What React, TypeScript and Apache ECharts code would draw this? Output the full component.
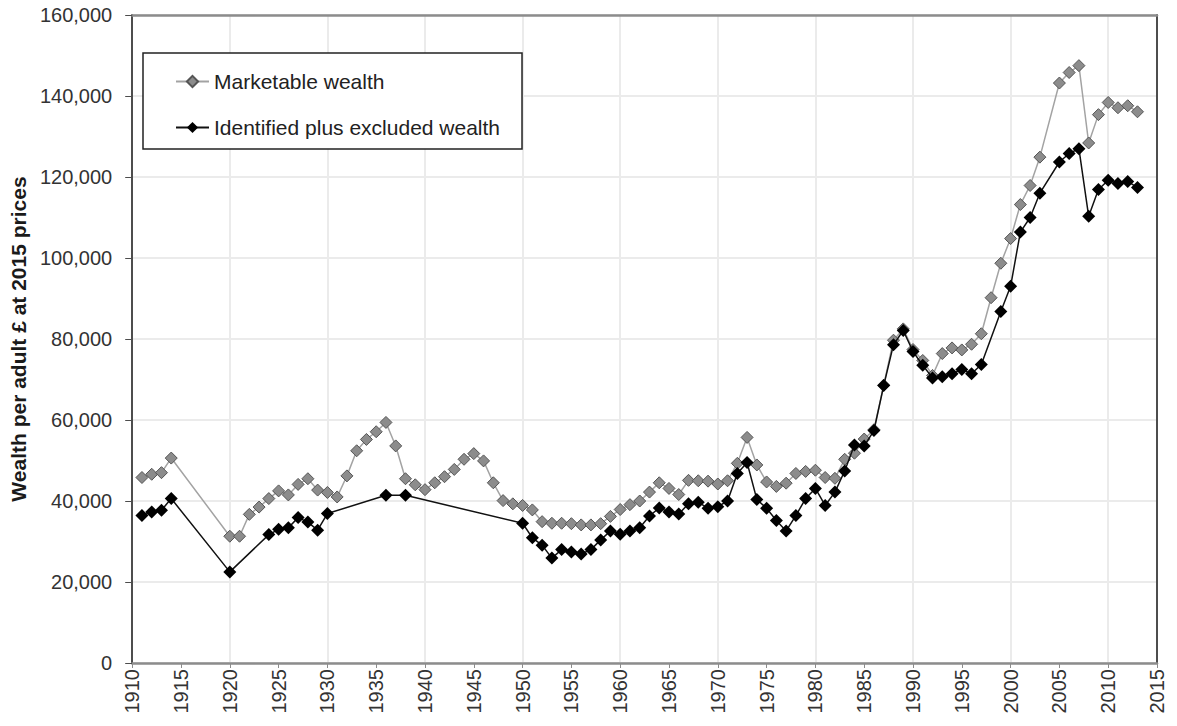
import React, { useEffect, useRef } from "react";
import * as echarts from "echarts";

// Marketable wealth (grey diamonds)
const marketableYears = [
  1911, 1912, 1913, 1914, 1920, 1921, 1922, 1923, 1924, 1925, 1926, 1927, 1928, 1929, 1930,
  1931, 1932, 1933, 1934, 1935, 1936, 1937, 1938, 1939, 1940, 1941, 1942, 1943, 1944, 1945,
  1946, 1947, 1948, 1949, 1950, 1951, 1952, 1953, 1954, 1955, 1956, 1957, 1958, 1959, 1960,
  1961, 1962, 1963, 1964, 1965, 1966, 1967, 1968, 1969, 1970, 1971, 1972, 1973, 1974, 1975,
  1976, 1977, 1978, 1979, 1980, 1981, 1982, 1983, 1984, 1985, 1986, 1987, 1988, 1989, 1990,
  1991, 1992, 1993, 1994, 1995, 1996, 1997, 1998, 1999, 2000, 2001, 2002, 2003, 2005, 2006,
  2007, 2008, 2009, 2010, 2011, 2012, 2013,
];
const marketableValues = [
  45800, 46600, 47000, 50600, 31300, 31300, 36700, 38500, 40600, 42500, 41500, 44100, 45500, 42700, 42100,
  41000, 46200, 52400, 55200, 57100, 59400, 53600, 45500, 44000, 42800, 44500, 46000, 47800, 50300, 51700,
  49900, 44500, 40100, 39300, 38900, 37800, 34900, 34500, 34500, 34400, 34100, 34100, 34400, 36200, 37900,
  39100, 40000, 42200, 44500, 43100, 41600, 45100, 45000, 44900, 44200, 45000, 49300, 55700, 48900, 44700,
  43600, 44400, 46800, 47300, 47600, 45800, 45600, 50300, 51800, 55300, 57600, 68600, 79700, 82500, 77400,
  74700, 71000, 76400, 77800, 77300, 78700, 81300, 90200, 98700, 104800, 113200, 117900, 124900, 143200, 145800,
  147500, 128400, 135400, 138400, 137100, 137600, 136100,
];

// Identified plus excluded wealth (black diamonds)
const identifiedYears = [
  1911, 1912, 1913, 1914, 1920, 1924, 1925, 1926, 1927, 1928, 1929, 1930, 1936, 1938,
  1950, 1951, 1952, 1953, 1954, 1955, 1956, 1957, 1958, 1959, 1960, 1961, 1962, 1963, 1964,
  1965, 1966, 1967, 1968, 1969, 1970, 1971, 1972, 1973, 1974, 1975, 1976, 1977, 1978, 1979,
  1980, 1981, 1982, 1983, 1984, 1985, 1986, 1987, 1988, 1989, 1990, 1991, 1992, 1993, 1994,
  1995, 1996, 1997, 1999, 2000, 2001, 2002, 2003, 2005, 2006, 2007, 2008, 2009, 2010, 2011,
  2012, 2013,
];
const identifiedValues = [
  36400, 37300, 37700, 40600, 22500, 31700, 33000, 33400, 35900, 34800, 32800, 36900, 41400, 41400,
  34500, 30900, 29100, 25900, 28000, 27400, 26900, 28000, 30400, 32600, 31800, 32600, 33400, 36300, 38300,
  37300, 36800, 39300, 39700, 38200, 38600, 40000, 46800, 49500, 40400, 38200, 35200, 32600, 36400, 40600,
  43100, 38900, 42200, 47400, 53800, 53600, 57400, 68500, 78600, 82100, 76900, 73500, 70400, 70700, 71400,
  72500, 71400, 73700, 86800, 93000, 106400, 110000, 116000, 123700, 125800, 127000, 110300, 116900, 119200, 118400,
  118900, 117400,
];

const seriesNames = ["Marketable wealth", "Identified plus excluded wealth"];
const yAxisTitle = "Wealth per adult £ at 2015 prices";

const FONT = "'Liberation Sans', Arial, sans-serif";

export default function App() {
  const ref = useRef<HTMLDivElement>(null);

  useEffect(() => {
    document.body.style.margin = "0";
    if (!ref.current) return;
    const chart = echarts.init(ref.current, undefined, { renderer: "svg" });

    const option = {
      animation: false,
      backgroundColor: "#ffffff",
      textStyle: { fontFamily: FONT },
      grid: { left: 123, right: 20, top: 15, bottom: 63, containLabel: false },
      legend: {
        data: seriesNames,
        orient: "vertical",
        left: 143,
        top: 53,
        itemWidth: 33,
        itemHeight: 14,
        itemGap: 25,
        padding: [18, 22, 11, 32],
        backgroundColor: "#ffffff",
        borderColor: "#222222",
        borderWidth: 1.5,
        textStyle: { fontSize: 21, lineHeight: 21, color: "#222222", fontFamily: FONT },
        z: 10,
      },
      xAxis: [
        {
          type: "value",
          min: 1910,
          max: 2015,
          interval: 5,
          position: "bottom",
          axisLine: { show: true, onZero: false, lineStyle: { color: "#8c8c8c", width: 2.5 } },
          axisTick: { show: true, length: 5, lineStyle: { color: "#8c8c8c" } },
          axisLabel: {
            rotate: 90,
            margin: 6,
            fontSize: 20,
            color: "#333333",
            fontFamily: FONT,
            formatter: (v: number) => String(v),
          },
          splitLine: { show: false },
        },
        {
          type: "value",
          min: 1910,
          max: 2015,
          interval: 10,
          position: "top",
          axisLine: { show: true, onZero: false, lineStyle: { color: "#8c8c8c", width: 2.5 } },
          axisTick: { show: false },
          axisLabel: { show: false },
          splitLine: { show: true, lineStyle: { color: "#ebebeb", width: 2 } },
        },
      ],
      yAxis: [
        {
          type: "value",
          min: 0,
          max: 160000,
          interval: 20000,
          position: "left",
          name: yAxisTitle,
          nameLocation: "middle",
          nameGap: 96,
          nameTextStyle: { fontSize: 21, fontWeight: "bold", color: "#1a1a1a", fontFamily: FONT },
          axisLine: { show: true, lineStyle: { color: "#4d4d4d", width: 2 } },
          axisTick: { show: true, length: 7, lineStyle: { color: "#4d4d4d" } },
          axisLabel: { margin: 20, fontSize: 20, color: "#333333", fontFamily: FONT },
          splitLine: { show: true, lineStyle: { color: "#ebebeb", width: 2 } },
        },
        {
          type: "value",
          min: 0,
          max: 160000,
          interval: 20000,
          position: "right",
          axisLine: { show: true, lineStyle: { color: "#4d4d4d", width: 2 } },
          axisTick: { show: false },
          axisLabel: { show: false },
          splitLine: { show: false },
        },
      ],
      series: [
        {
          name: seriesNames[0],
          type: "line",
          xAxisIndex: 0,
          yAxisIndex: 0,
          data: marketableYears.map((y, i) => [y, marketableValues[i]]),
          symbol: "diamond",
          symbolSize: 12,
          showSymbol: true,
          showAllSymbol: true,
          itemStyle: { color: "#8c8c8c", borderColor: "#555555", borderWidth: 1 },
          lineStyle: { color: "#a3a3a3", width: 1.5 },
          z: 2,
        },
        {
          name: seriesNames[1],
          type: "line",
          xAxisIndex: 0,
          yAxisIndex: 0,
          data: identifiedYears.map((y, i) => [y, identifiedValues[i]]),
          symbol: "diamond",
          symbolSize: 13,
          showSymbol: true,
          showAllSymbol: true,
          itemStyle: { color: "#000000" },
          lineStyle: { color: "#111111", width: 1.5 },
          z: 3,
        },
      ],
    };

    chart.setOption(option);
    return () => chart.dispose();
  }, []);

  return <div ref={ref} style={{ width: 1177, height: 726 }} />;
}
